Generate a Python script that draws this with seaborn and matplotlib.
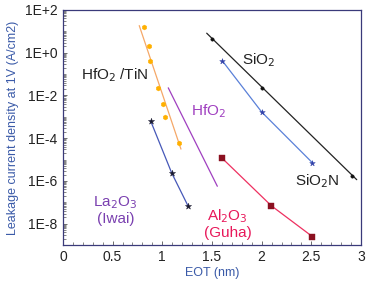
import numpy as np
import pandas as pd
import matplotlib
matplotlib.use("Agg")
import matplotlib.pyplot as plt
import matplotlib.ticker as mticker
import seaborn as sns

sns.set_style("ticks")
plt.rcParams['font.family'] = ['Liberation Sans', 'DejaVu Sans']

# HfO2/TiN (orange)
hfo2tin_x = [0.816, 0.863, 0.873, 0.954, 1.004, 1.030, 1.171]
hfo2tin_y = [16.7, 2.1, 0.42, 0.022, 0.0038, 0.001, 5.7e-5]
hfo2tin_fit_x = [0.768, 1.188]
hfo2tin_fit_y = [18.6, 3.1e-5]

# HfO2 (purple line only)
hfo2_x = [1.060, 1.554]
hfo2_y = [0.0228, 5.66e-7]

# SiO2 (black)
sio2_x = [1.504, 2.001, 2.907]
sio2_y = [4.3, 0.022, 1.77e-6]
sio2_fit_x = [1.447, 2.957]
sio2_fit_y = [8.2, 1.15e-6]

# SiO2N (blue)
sio2n_x = [1.604, 2.001, 2.511]
sio2n_y = [0.42, 1.67e-3, 7.1e-6]

# La2O3 (Iwai)
la2o3_x = [0.883, 1.095, 1.262]
la2o3_y = [6.4e-4, 2.35e-6, 6.4e-8]

# Al2O3 (Guha)
al2o3_x = [1.604, 2.098, 2.511]
al2o3_y = [1.14e-5, 6.9e-8, 2.5e-9]

fig = plt.figure(figsize=(3.68, 2.85), dpi=100)
ax = fig.add_axes([0.171, 0.140, 0.810, 0.825])

def line(x, y, color, lw=0.9):
    sns.lineplot(x=x, y=y, ax=ax, color=color, lw=lw, sort=False, estimator=None)

def pts(x, y, color, marker, s):
    sns.scatterplot(x=x, y=y, ax=ax, color=color, marker=marker, s=s,
                    edgecolor=color, linewidth=0.3, zorder=5)

line(hfo2tin_fit_x, hfo2tin_fit_y, '#f5a868')
pts(hfo2tin_x, hfo2tin_y, '#ffb000', 'h', 13)

line(hfo2_x, hfo2_y, '#a040c0')

line(sio2_fit_x, sio2_fit_y, '#222222')
pts(sio2_x, sio2_y, '#111111', 'o', 6)

line(sio2n_x, sio2n_y, '#5a80d8')
pts(sio2n_x, sio2n_y, '#3040a8', '*', 18)

line(la2o3_x, la2o3_y, '#4658b8')
pts(la2o3_x, la2o3_y, '#1a1a30', '*', 22)

line(al2o3_x, al2o3_y, '#ee3060')
pts(al2o3_x, al2o3_y, '#8b1020', 's', 22)

ax.set_yscale('log')
ax.set_xlim(0, 3)
ax.set_ylim(1e-9, 1e2)

ax.yaxis.set_major_locator(mticker.FixedLocator([1e2, 1e0, 1e-2, 1e-4, 1e-6, 1e-8]))
def fmt(v, pos):
    e = int(round(np.log10(v)))
    return "1E+%d" % e if e >= 0 else "1E%d" % e
ax.yaxis.set_major_formatter(mticker.FuncFormatter(fmt))
ax.yaxis.set_minor_locator(mticker.LogLocator(base=10, subs=np.arange(1, 10), numticks=30))
ax.yaxis.set_minor_formatter(mticker.NullFormatter())

ax.xaxis.set_major_locator(mticker.MultipleLocator(0.5))
ax.xaxis.set_minor_locator(mticker.MultipleLocator(0.1))
ax.xaxis.set_major_formatter(mticker.FuncFormatter(lambda v, p: ("%g" % v)))

spine_c = '#3a3a7a'
for s in ax.spines.values():
    s.set_visible(True)
    s.set_color(spine_c)
    s.set_linewidth(0.9)
ax.tick_params(which='both', direction='in', color='#555555', labelsize=10, labelcolor='#222222')
ax.tick_params(which='major', length=3, width=0.6)
ax.tick_params(which='minor', length=2, width=0.5)
ax.tick_params(axis='y', which='major', pad=4)

lab_c = '#3a5aa8'
ax.set_xlabel("EOT (nm)", color=lab_c, fontsize=9, labelpad=2)
ax.set_ylabel("Leakage current density at 1V (A/cm2)", color=lab_c, fontsize=9, labelpad=4)

ax.text(0.18, 0.09, "HfO$_2$ /TiN", fontsize=11, color='#222222', va='center')
ax.text(1.29, 1.8e-3, "HfO$_2$", fontsize=11, color='#a040c0', va='center')
ax.text(1.80, 0.47, "SiO$_2$", fontsize=11, color='#222222', va='center')
ax.text(2.34, 1.0e-6, "SiO$_2$N", fontsize=11, color='#222222', va='center')
ax.text(0.53, 2.5e-7, "La$_2$O$_3$\n(Iwai)", fontsize=11, color='#7a40b0', va='top', ha='center', linespacing=1.1)
ax.text(1.66, 6.0e-8, "Al$_2$O$_3$\n(Guha)", fontsize=11, color='#e8185a', va='top', ha='center', linespacing=1.1)

fig.savefig("out.png", dpi=100)
